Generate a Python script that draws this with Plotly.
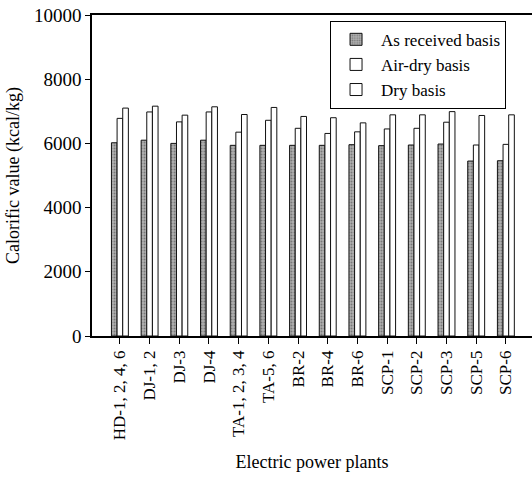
import plotly.graph_objects as go

plants = ["HD-1, 2, 4, 6", "DJ-1, 2", "DJ-3", "DJ-4", "TA-1, 2, 3, 4", "TA-5, 6",
          "BR-2", "BR-4", "BR-6", "SCP-1", "SCP-2", "SCP-3", "SCP-5", "SCP-6"]
as_received = [6020, 6100, 6000, 6100, 5940, 5940, 5940, 5940, 5960, 5930, 5950, 5980, 5450, 5460]
air_dry = [6780, 6980, 6670, 6980, 6350, 6720, 6470, 6310, 6360, 6450, 6470, 6660, 5950, 5970]
dry = [7100, 7160, 6880, 7140, 6900, 7120, 6840, 6800, 6640, 6890, 6890, 6990, 6870, 6890]
y_ticks = [0, 2000, 4000, 6000, 8000, 10000]

serif = "'Liberation Serif', 'Times New Roman', Times, serif"
x_idx = list(range(len(plants)))

fig = go.Figure()
fig.add_trace(go.Bar(
    x=x_idx, y=as_received, name="As received basis",
    marker=dict(color="#a8a8a8", line=dict(color="#111", width=1),
                pattern=dict(shape=".", fgcolor="#444", bgcolor="#b0b0b0", size=3, solidity=0.35)),
))
fig.add_trace(go.Bar(
    x=x_idx, y=air_dry, name="Air-dry basis",
    marker=dict(color="white", line=dict(color="#111", width=1)),
))
fig.add_trace(go.Bar(
    x=x_idx, y=dry, name="Dry basis",
    marker=dict(color="white", line=dict(color="#111", width=1)),
))

fig.update_layout(
    width=532, height=482,
    margin=dict(l=92, r=0, t=15, b=146),
    paper_bgcolor="white", plot_bgcolor="white",
    barmode="group", bargap=0.43, bargroupgap=0,
    font=dict(family=serif, size=17, color="black"),
    legend=dict(
        x=0.541, y=0.982, xanchor="left", yanchor="top",
        bgcolor="white", bordercolor="black", borderwidth=1,
        font=dict(family=serif, size=17, color="black"),
        tracegroupgap=0, itemwidth=40,
    ),
    xaxis=dict(
        range=[-0.94, 13.88],
        tickmode="array", tickvals=x_idx, ticktext=plants, tickangle=-90,
        ticks="outside", ticklen=6, tickcolor="black",
        showline=True, linecolor="black", linewidth=1.5, mirror=True,
        showgrid=False, zeroline=False,
        tickfont=dict(family=serif, size=17, color="black"),
        title=dict(text="Electric power plants", font=dict(family=serif, size=18, color="black"), standoff=16),
    ),
    yaxis=dict(
        range=[0, 10000],
        tickmode="array", tickvals=y_ticks, ticktext=[str(v) for v in y_ticks],
        ticks="outside", ticklen=5, tickcolor="black",
        showline=True, linecolor="black", linewidth=1.5,
        showgrid=False, zeroline=False,
        tickfont=dict(family=serif, size=19, color="black"),
        title=dict(text="Calorific value (kcal/kg)", font=dict(family=serif, size=18, color="black"), standoff=10),
    ),
)

fig.write_html("out.html")
